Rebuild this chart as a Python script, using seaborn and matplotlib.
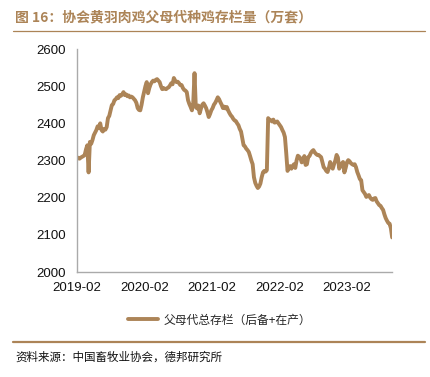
"""协会黄羽肉鸡父母代种鸡存栏量（万套） - weekly line chart."""
import matplotlib
matplotlib.use("Agg")
import matplotlib.pyplot as plt
import matplotlib.dates as mdates
import numpy as np
import pandas as pd
import seaborn as sns

BROWN = "#AC8457"
TITLE = "图 16：协会黄羽肉鸡父母代种鸡存栏量（万套）"
SERIES_NAME = "父母代总存栏（后备+在产）"
SOURCE = "资料来源：中国畜牧业协会，德邦研究所"

start_date = "2019-02-01"
stock = [
    2309, 2306, 2305, 2308, 2310, 2312, 2315, 2330, 2341, 2268,
    2350, 2345, 2355, 2368, 2375, 2382, 2392, 2388, 2400, 2382,
    2378, 2385, 2383, 2390, 2414, 2420, 2435, 2449, 2452, 2462,
    2465, 2470, 2468, 2476, 2474, 2478, 2484, 2476, 2478, 2473,
    2475, 2470, 2472, 2470, 2466, 2462, 2455, 2441, 2436, 2435,
    2450, 2470, 2485, 2500, 2511, 2481, 2495, 2505, 2511, 2515,
    2513, 2517, 2519, 2515, 2511, 2500, 2492, 2495, 2493, 2492,
    2495, 2497, 2502, 2508, 2505, 2522, 2515, 2511, 2512, 2508,
    2503, 2503, 2495, 2490, 2488, 2484, 2462, 2452, 2444, 2435,
    2454, 2535, 2444, 2440, 2448, 2427, 2440, 2450, 2454, 2448,
    2441, 2430, 2417, 2425, 2435, 2441, 2450, 2455, 2462, 2470,
    2465, 2457, 2450, 2441, 2445, 2440, 2444, 2435, 2428, 2422,
    2418, 2412, 2408, 2406, 2400, 2395, 2385, 2378, 2360, 2341,
    2338, 2332, 2328, 2323, 2312, 2300, 2290, 2255, 2240, 2232,
    2226, 2230, 2238, 2255, 2268, 2272, 2270, 2274, 2414, 2410,
    2408, 2405, 2410, 2402, 2403, 2405, 2400, 2395, 2390, 2382,
    2375, 2363, 2320, 2272, 2280, 2285, 2278, 2285, 2290, 2280,
    2300, 2313, 2310, 2306, 2295, 2300, 2312, 2288, 2290, 2309,
    2312, 2320, 2325, 2328, 2322, 2318, 2315, 2315, 2312, 2309,
    2295, 2282, 2278, 2272, 2269, 2280, 2296, 2285, 2278, 2290,
    2300, 2315, 2308, 2278, 2285, 2292, 2296, 2268, 2280, 2295,
    2301, 2298, 2293, 2290, 2288, 2290, 2282, 2269, 2260, 2250,
    2247, 2220, 2215, 2210, 2202, 2205, 2207, 2200, 2196, 2194,
    2198, 2199, 2190, 2185, 2180, 2178, 2172, 2167, 2155, 2145,
    2138, 2132, 2130, 2118, 2093,
]
y_ticks = [2000, 2100, 2200, 2300, 2400, 2500, 2600]
x_ticks = ["2019-02-01", "2020-02-01", "2021-02-01", "2022-02-01", "2023-02-01"]

df = pd.DataFrame({
    "date": pd.date_range(start_date, periods=len(stock), freq="7D"),
    "value": stock,
})

sns.set_style("white")
plt.rcParams["font.family"] = ["Liberation Sans", "Noto Sans CJK SC", "DejaVu Sans"]

fig = plt.figure(figsize=(4.30, 3.77), dpi=100)
ax = fig.add_axes([0.179, 0.2785, 0.733, 0.5915])

sns.lineplot(data=df, x="date", y="value", color=BROWN, lw=2.8, ax=ax,
             label=SERIES_NAME, legend=False)

ax.set_ylim(2000, 2600)
ax.set_yticks(y_ticks)
ax.set_xlim(df["date"].iloc[0], df["date"].iloc[-1])
ax.set_xticks(pd.to_datetime(x_ticks))
ax.xaxis.set_major_formatter(mdates.DateFormatter("%Y-%m"))
ax.set_xlabel(""); ax.set_ylabel("")
ax.tick_params(axis="both", direction="in", length=3, width=0.8, color="#999999",
               labelsize=9.5, labelcolor="#111111")
ax.tick_params(axis="x", pad=7)
ax.tick_params(axis="y", pad=8)
for side in ["top", "right"]:
    ax.spines[side].set_visible(False)
for side in ["left", "bottom"]:
    ax.spines[side].set_color("#AAAAAA")
    ax.spines[side].set_linewidth(1.0)

cjk = ["Noto Sans CJK SC", "DejaVu Sans"]
fig.text(0.035, 0.955, TITLE, color=BROWN, fontsize=10, fontweight="bold",
         family=cjk, va="center", ha="left")
fig.add_artist(plt.Line2D([0.03, 0.988], [0.918, 0.918], color=BROWN, lw=0.9,
                          transform=fig.transFigure))

handles, labels = ax.get_legend_handles_labels()
fig.legend(handles, labels, loc="center", bbox_to_anchor=(0.51, 0.151),
           frameon=False, prop={"family": cjk, "size": 8.5}, handlelength=2.6,
           handletextpad=0.4)

fig.add_artist(plt.Line2D([0.03, 0.988], [0.093, 0.093], color=BROWN, lw=1.6,
                          transform=fig.transFigure))
fig.text(0.035, 0.052, SOURCE, color="#111111", fontsize=8.3, family=cjk,
         va="center", ha="left")

plt.savefig("out.png", dpi=100)
plt.close()
